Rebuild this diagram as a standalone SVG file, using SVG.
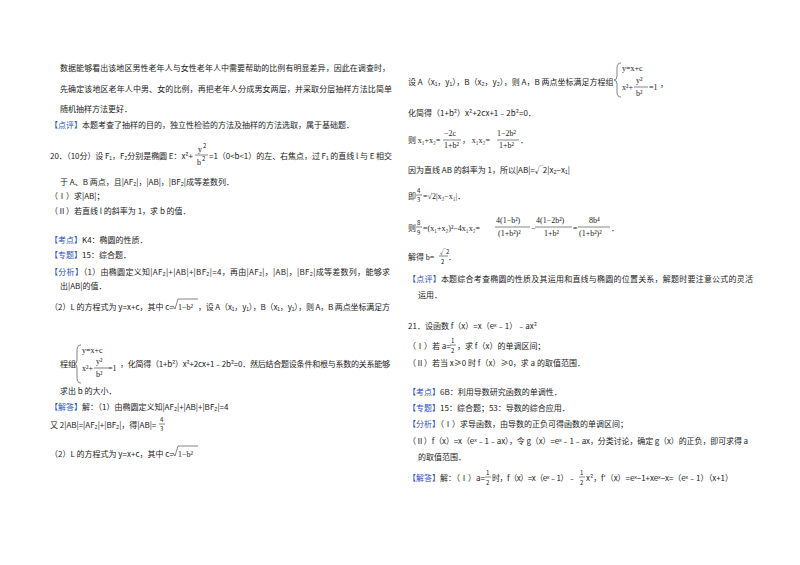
<svg xmlns="http://www.w3.org/2000/svg" width="800" height="565" viewBox="0 0 800 565">
<style>
text{font-family:"Noto Sans CJK SC","Liberation Sans",sans-serif;font-size:8px;fill:#222}
.b{fill:#2b4fc0}
.m{font-family:"Liberation Serif","Noto Sans CJK SC",serif;font-size:8px}
.s{font-size:6px}
line,path{stroke:#333;stroke-width:0.6;fill:none}
</style>
<rect width="800" height="565" fill="#fff"/>
<g id="left">
<text x="60" y="71" textLength="330">数据能够看出该地区男性老年人与女性老年人中需要帮助的比例有明显差异，因此在调查时，</text>
<text x="60" y="92" textLength="332">先确定该地区老年人中男、女的比例，再把老年人分成男女两层，并采取分层抽样方法比简单</text>
<text x="60" y="112">随机抽样方法更好．</text>
<text x="50" y="128"><tspan class="b">【点评】</tspan>本题考查了抽样的目的，独立性检验的方法及抽样的方法选取，属于基础题．</text>
<text x="50" y="159" textLength="143">20．（10分）设 F₁，F₂分别是椭圆 E：x²+</text>
<text x="198" y="152" class="m">y</text><text x="203" y="148" class="s">2</text>
<line x1="195" y1="155" x2="208" y2="155"/>
<text x="197" y="165" class="m">b</text><text x="202" y="161" class="s">2</text>
<text x="209" y="159" textLength="183">=1（0&lt;b&lt;1）的左、右焦点，过 F₁ 的直线 l 与 E 相交</text>
<text x="60" y="185">于 A、B 两点，且|AF₂|，|AB|，|BF₂|成等差数列．</text>
<text x="50" y="199">（Ⅰ）求|AB|；</text>
<text x="50" y="214">（Ⅱ）若直线 l 的斜率为 1，求 b 的值．</text>
<text x="50" y="243"><tspan class="b">【考点】</tspan>K4：椭圆的性质．</text>
<text x="50" y="258"><tspan class="b">【专题】</tspan>15：综合题．</text>
<text x="50" y="275" textLength="340"><tspan class="b">【分析】</tspan>（1）由椭圆定义知|AF₂|+|AB|+|BF₂|=4，再由|AF₂|，|AB|，|BF₂|成等差数列，能够求</text>
<text x="60" y="289">出|AB|的值．</text>
<text x="50" y="310">（2）L 的方程式为 y=x+c，其中 c=</text>
<path d="M173,306 l2,3 l3,-10 h20"/>
<text x="178" y="310" class="m">1−b²</text>
<text x="198" y="310" textLength="192">，设 A（x₁，y₁），B（x₁，y₁），则 A，B 两点坐标满足方</text>
<text x="60" y="367">程组</text>
<path d="M81,345 q-4,0 -4,5 v10 q0,4 -3,4 q3,0 3,4 v10 q0,5 4,5"/>
<text x="82" y="353" class="m">y=x+c</text>
<text x="82" y="371" class="m">x²+</text>
<line x1="94" y1="368" x2="108" y2="368"/>
<text x="96" y="364" class="m">y²</text><text x="96" y="377" class="m">b²</text>
<text x="108" y="371" class="m">=1</text>
<text x="120" y="367" textLength="270">，化简得（1+b²）x²+2cx+1﹣2b²=0．然后结合题设条件和根与系数的关系能够</text>
<text x="60" y="394">求出 b 的大小．</text>
<text x="50" y="410"><tspan class="b">【解答】</tspan>解：（1）由椭圆定义知|AF₂|+|AB|+|BF₂|=4</text>
<text x="50" y="428">又 2|AB|=|AF₂|+|BF₂|，得|AB|=</text>
<text x="160" y="422" class="s">4</text><line x1="159" y1="424" x2="165" y2="424"/><text x="160" y="431" class="s">3</text>
<text x="50" y="457">（2）L 的方程式为 y=x+c，其中 c=</text>
<path d="M173,453 l2,3 l3,-10 h20"/>
<text x="178" y="457" class="m">1−b²</text>
</g>
<g id="right">
<text x="408" y="85">设 A（x₁，y₁），B（x₂，y₂），则 A，B 两点坐标满足方程组</text>
<path d="M621,63 q-4,0 -4,5 v8 q0,4 -3,4 q3,0 3,4 v8 q0,5 4,5"/>
<text x="622" y="71" class="m">y=x+c</text>
<text x="622" y="90" class="m">x²+</text>
<line x1="634" y1="87" x2="648" y2="87"/>
<text x="636" y="83" class="m">y²</text><text x="636" y="96" class="m">b²</text>
<text x="649" y="90" class="m">=1</text>
<text x="660" y="87">，</text>
<text x="408" y="116">化简得（1+b²）x²+2cx+1﹣2b²=0．</text>
<text x="408" y="143">则 <tspan class="m">x₁+x₂=</tspan></text>
<line x1="443" y1="140" x2="461" y2="140"/>
<text x="444" y="136" class="m">−2c</text><text x="444" y="148" class="m">1+b²</text>
<text x="462" y="143">， <tspan class="m">x₁x₂=</tspan></text>
<line x1="497" y1="140" x2="519" y2="140"/>
<text x="497" y="136" class="m">1−2b²</text><text x="499" y="148" class="m">1+b²</text>
<text x="520" y="143">．</text>
<text x="408" y="173">因为直线 AB 的斜率为 1，所以|AB|=√2|x₂−x₁|</text>
<text x="408" y="199">即</text>
<text x="417" y="193" class="s">4</text><line x1="416" y1="195" x2="422" y2="195"/><text x="417" y="202" class="s">3</text>
<text x="423" y="199" class="m">=√2|x₂−x₁|．</text>
<text x="408" y="231">则</text>
<text x="417" y="225" class="s">8</text><line x1="416" y1="227" x2="422" y2="227"/><text x="417" y="235" class="s">9</text>
<text x="423" y="231" class="m">=(x₁+x₂)²−4x₁x₂=</text>
<line x1="495" y1="227" x2="530" y2="227"/>
<text x="496" y="223" class="m">4(1−b²)</text><text x="498" y="236" class="m">(1+b²)²</text>
<text x="531" y="231" class="m">−</text>
<line x1="535" y1="227" x2="572" y2="227"/>
<text x="536" y="223" class="m">4(1−2b²)</text><text x="544" y="236" class="m">1+b²</text>
<text x="573" y="231" class="m">=</text>
<line x1="578" y1="227" x2="610" y2="227"/>
<text x="589" y="223" class="m">8b⁴</text><text x="579" y="236" class="m">(1+b²)²</text>
<text x="611" y="231">．</text>
<text x="408" y="260">解得 <tspan class="m">b=</tspan></text>
<text x="440" y="254" class="s">√2</text><line x1="439" y1="256" x2="448" y2="256"/><text x="441" y="264" class="s">2</text>
<text x="448" y="260">．</text>
<text x="408" y="282" textLength="345"><tspan class="b">【点评】</tspan>本题综合考查椭圆的性质及其运用和直线与椭圆的位置关系，解题时要注意公式的灵活</text>
<text x="418" y="298">运用．</text>
<text x="408" y="329">21．设函数 f（x）=x（eˣ﹣1）﹣ax²</text>
<text x="408" y="349">（Ⅰ）若 a=</text>
<text x="451" y="343" class="s">1</text><line x1="450" y1="345" x2="456" y2="345"/><text x="451" y="353" class="s">2</text>
<text x="457" y="349">，求 f（x）的单调区间；</text>
<text x="408" y="366">（Ⅱ）若当 x≥0 时 f（x）≥0，求 a 的取值范围．</text>
<text x="408" y="395"><tspan class="b">【考点】</tspan>6B：利用导数研究函数的单调性．</text>
<text x="408" y="411"><tspan class="b">【专题】</tspan>15：综合题；53：导数的综合应用．</text>
<text x="408" y="427"><tspan class="b">【分析】</tspan>（Ⅰ）求导函数，由导数的正负可得函数的单调区间；</text>
<text x="408" y="444" textLength="340">（Ⅱ）f（x）=x（eˣ﹣1﹣ax），令 g（x）=eˣ﹣1﹣ax，分类讨论，确定 g（x）的正负，即可求得 a</text>
<text x="418" y="460">的取值范围．</text>
<text x="408" y="481"><tspan class="b">【解答】</tspan>解：（Ⅰ）a=</text>
<text x="486" y="475" class="s">1</text><line x1="485" y1="477" x2="491" y2="477"/><text x="486" y="485" class="s">2</text>
<text x="492" y="481" textLength="84">时，f（x）=x（eˣ﹣1）﹣</text>
<text x="580" y="475" class="s">1</text><line x1="579" y1="477" x2="585" y2="477"/><text x="580" y="485" class="s">2</text>
<text x="586" y="481" textLength="147">x²，f′（x）=eˣ−1+xeˣ−x=（eˣ﹣1）（x+1）</text>
</g>
</svg>
